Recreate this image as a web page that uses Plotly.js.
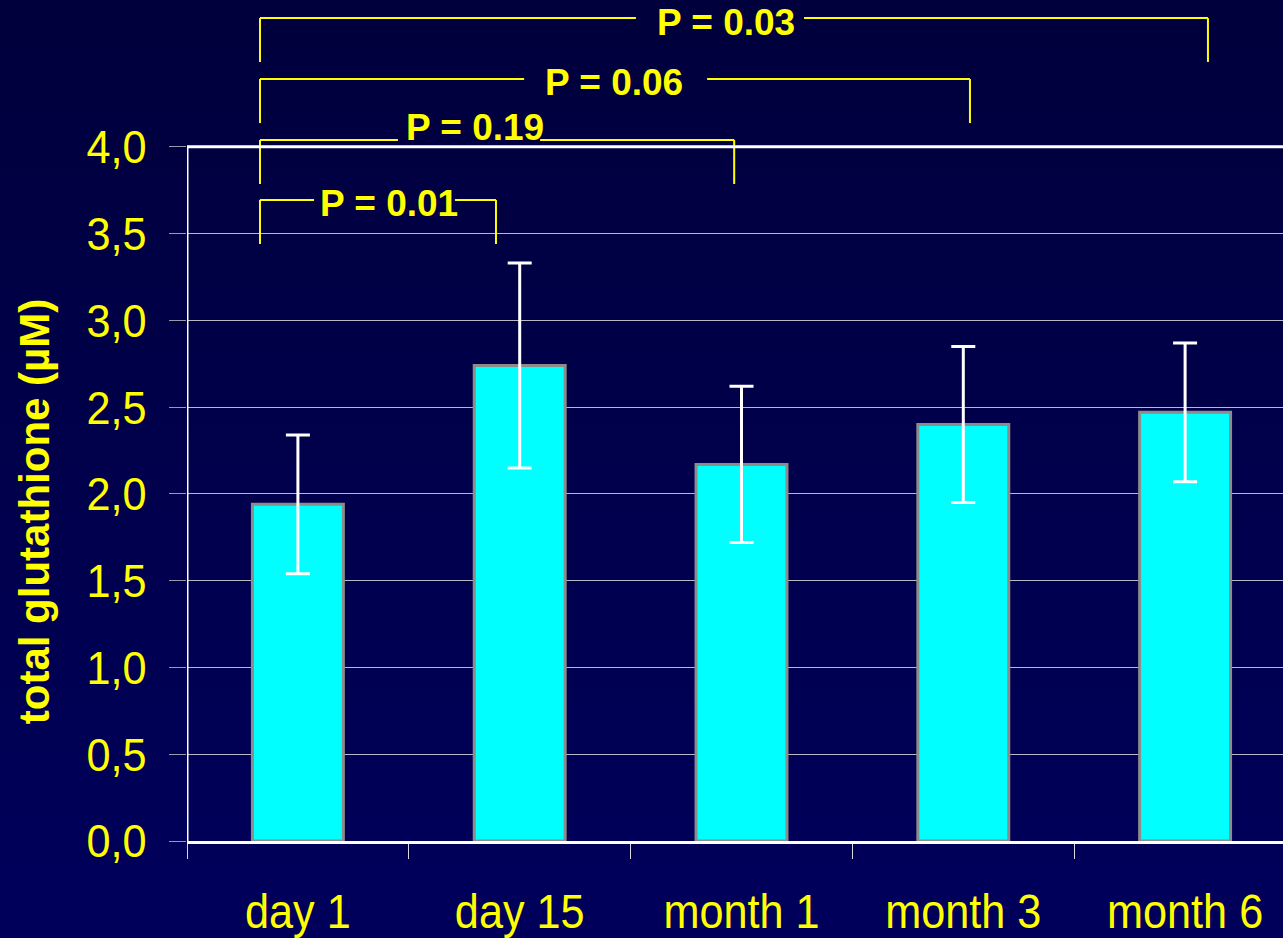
<!DOCTYPE html>
<html>
<head>
<meta charset="utf-8">
<script src="https://cdn.plot.ly/plotly-3.0.1.min.js"></script>
<style>
  html, body { margin: 0; padding: 0; width: 1283px; height: 938px; overflow: hidden;
    background: linear-gradient(#00003c, #00005c); }
  #chart { width: 1296px; height: 938px; }
</style>
</head>
<body>
<div id="chart"></div>
<script>
// Total glutathione over the follow-up visits (mean ± SD)
const categories = ['day 1', 'day 15', 'month 1', 'month 3', 'month 6'];
const meanGSH = [1.94, 2.74, 2.17, 2.40, 2.47];
const sdGSH = [0.40, 0.59, 0.45, 0.45, 0.40];
const yTickVals = [0, 0.5, 1, 1.5, 2, 2.5, 3, 3.5, 4];
const pLabels = ['P = 0.01', 'P = 0.19', 'P = 0.06', 'P = 0.03'];

// Comparison brackets (day 1 vs. each later visit): legs, bar level,
// the gap left for the label and the label anchor, in axis units.
const bracketGeom = [
  { x0: -0.171, x1: 0.893, y: 3.694, foot: 3.440, gap: [0.073, 0.708], tx: 0.41,  ty: 3.676 },
  { x0: -0.171, x1: 1.967, y: 4.039, foot: 3.786, gap: [0.451, 1.092], tx: 0.80,  ty: 4.114 },
  { x0: -0.171, x1: 3.030, y: 4.391, foot: 4.137, gap: [1.020, 1.845], tx: 1.425, ty: 4.368 },
  { x0: -0.171, x1: 4.103, y: 4.742, foot: 4.489, gap: [1.524, 2.282], tx: 1.928, ty: 4.719 }
];

const yellow = '#ffff00';
const shapes = [];
const annotations = [];

bracketGeom.forEach((b, i) => {
  const seg = (x0, y0, x1, y1) => shapes.push({
    type: 'line', xref: 'x', yref: 'y', x0, y0, x1, y1,
    line: { color: yellow, width: 2 }, layer: 'above'
  });
  seg(b.x0, b.foot, b.x0, b.y);
  seg(b.x0, b.y, b.gap[0], b.y);
  seg(b.gap[1], b.y, b.x1, b.y);
  seg(b.x1, b.y, b.x1, b.foot);
  annotations.push({
    xref: 'x', yref: 'y', x: b.tx, y: b.ty, text: pLabels[i], showarrow: false,
    xanchor: 'center', yanchor: 'middle',
    font: { family: 'Liberation Sans, Arial, sans-serif', size: 37, color: yellow, weight: 'bold' }
  });
});

// Plot frame: top edge and left edge stop at 4,0
shapes.push({ type: 'line', xref: 'x', yref: 'y', x0: -0.5, x1: 4.6, y0: 4, y1: 4,
  line: { color: '#ffffff', width: 3 }, layer: 'above' });
shapes.push({ type: 'line', xref: 'x', yref: 'y', x0: -0.5, x1: -0.5, y0: 0, y1: 4,
  line: { color: '#ffffff', width: 3 }, layer: 'above' });

annotations.push({
  xref: 'paper', yref: 'y', x: -0.138, y: 1.90, text: 'total glutathione (µM)',
  textangle: -90, showarrow: false, xanchor: 'center', yanchor: 'middle',
  font: { family: 'Liberation Sans, Arial, sans-serif', size: 42, color: yellow, weight: 'bold' }
});

const trace = {
  type: 'bar',
  x: categories,
  y: meanGSH,
  marker: { color: '#00ffff', line: { color: '#8c8c8c', width: 3 } },
  error_y: { type: 'data', array: sdGSH, visible: true, color: '#ffffff', thickness: 3, width: 12 },
  hoverinfo: 'skip'
};

const layout = {
  width: 1296, height: 938,
  margin: { l: 187, r: 0, t: 8, b: 97 },
  paper_bgcolor: 'rgba(0,0,0,0)',
  plot_bgcolor: 'rgba(0,0,0,0)',
  separators: ',.',
  showlegend: false,
  bargap: 0.59,
  xaxis: {
    type: 'category',
    range: [-0.5, 4.5],
    tickson: 'boundaries',
    ticks: 'outside', ticklen: 15, tickwidth: 1, tickcolor: '#d8d8e0',
    ticklabelstandoff: 26,
    showline: true, linecolor: '#ffffff', linewidth: 3,
    showgrid: false, zeroline: false,
    tickfont: { family: 'Liberation Sans, Arial, sans-serif', size: 48, color: yellow }
  },
  yaxis: {
    range: [0, 4.8],
    tickvals: yTickVals,
    tickformat: '.1f',
    ticks: 'outside', ticklen: 17, tickwidth: 1, tickcolor: '#9a9aae',
    ticklabelstandoff: 13,
    showline: false, zeroline: false,
    showgrid: true, gridcolor: '#b8b8c8', gridwidth: 1,
    tickfont: { family: 'Liberation Sans, Arial, sans-serif', size: 47, color: yellow }
  },
  shapes, annotations
};

// Narrow the regular-weight tick labels horizontally
function squeeze(selector, k) {
  document.querySelectorAll(selector).forEach(t => {
    const w = t.getComputedTextLength();
    if (w > 0) {
      t.setAttribute('textLength', (w * k).toFixed(1));
      t.setAttribute('lengthAdjust', 'spacingAndGlyphs');
    }
  });
}

Plotly.newPlot('chart', [trace], layout, { staticPlot: true, displayModeBar: false }).then(() => {
  squeeze('.xtick text', 0.9);
  squeeze('.ytick text', 0.92);
});
</script>
</body>
</html>
